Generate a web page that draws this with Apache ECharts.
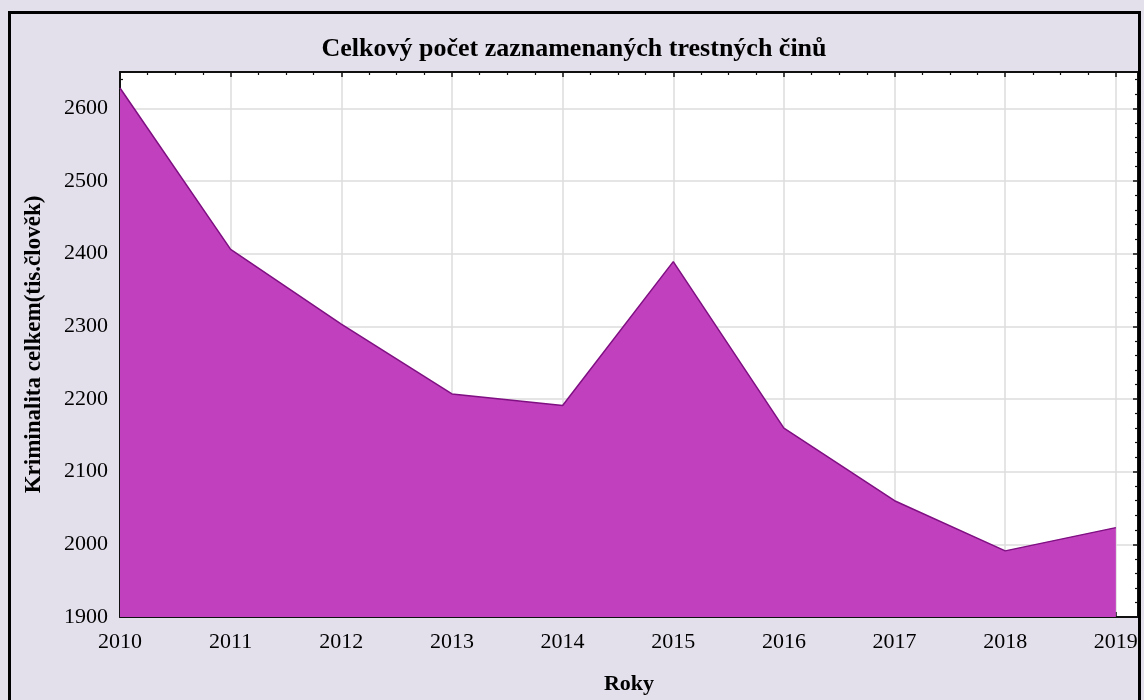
<!DOCTYPE html>
<html>
<head>
<meta charset="utf-8">
<script src="https://cdn.jsdelivr.net/npm/echarts@6/dist/echarts.min.js"></script>
<style>
  html, body { margin: 0; padding: 0; background: #e3dfeb; }
  #chart { position: absolute; left: 0; top: 0; width: 1144px; height: 700px; }
  #frame { position: absolute; left: 8px; top: 11px; width: 1133px; height: 700px;
           box-sizing: border-box; border: 3px solid #000; pointer-events: none; }
</style>
</head>
<body>
<div id="chart"></div>
<div id="frame"></div>
<script>
// Data
const years = [2010, 2011, 2012, 2013, 2014, 2015, 2016, 2017, 2018, 2019];
const crimes = [2628, 2406, 2303, 2207, 2191, 2389, 2160, 2060, 1991, 2023];

const chart = echarts.init(document.getElementById('chart'));
const font = '"Liberation Serif", "Times New Roman", serif';
const axisLine = { show: true, lineStyle: { color: '#111', width: 2 } };

const xCommon = {
    type: 'value', min: 2010, max: 2019.2, interval: 1,
    axisLine: axisLine,
    axisTick: { show: true, inside: true, length: 5, lineStyle: { color: '#111', width: 1.5 } },
    minorTick: { show: true, splitNumber: 4, length: 3, lineStyle: { color: '#111', width: 1.2 } }
};
const yCommon = {
    type: 'value', min: 1900, max: 2650, interval: 100,
    axisLine: axisLine,
    axisTick: { show: true, inside: true, length: 5, lineStyle: { color: '#111', width: 1.5 } },
    minorTick: { show: true, splitNumber: 5, length: 3, lineStyle: { color: '#111', width: 1.2 } }
};

chart.setOption({
    backgroundColor: '#e3dfeb',
    animation: false,
    title: {
        text: 'Celkový počet zaznamenaných trestných činů',
        left: 569, top: 31, textAlign: 'center',
        textStyle: { fontFamily: font, fontSize: 26, fontWeight: 'bold', color: '#000' }
    },
    grid: {
        left: 120, top: 72, width: 1018, height: 545,
        show: true, backgroundColor: '#fff', borderWidth: 0
    },
    xAxis: [
        {
            ...xCommon, position: 'bottom',
            name: 'Roky', nameLocation: 'middle', nameGap: 56,
            nameTextStyle: { fontFamily: font, fontSize: 22, fontWeight: 'bold', color: '#000' },
            axisLabel: { show: true, margin: 14, showMaxLabel: false,
                fontFamily: font, fontSize: 22, color: '#000',
                formatter: v => String(Math.round(v)) },
            splitLine: { show: true, lineStyle: { color: '#dcdcdc', width: 1.5 } }
        },
        {
            ...xCommon, position: 'top',
            axisLabel: { show: false },
            splitLine: { show: false }
        }
    ],
    yAxis: [
        {
            ...yCommon, position: 'left',
            name: 'Kriminalita celkem(tis.člověk)', nameLocation: 'middle', nameGap: 74,
            nameTextStyle: { fontFamily: font, fontSize: 23, fontWeight: 'bold', color: '#000' },
            axisLabel: { show: true, margin: 12, showMaxLabel: false,
                fontFamily: font, fontSize: 22, color: '#000',
                formatter: v => String(v) },
            splitLine: { show: true, lineStyle: { color: '#dcdcdc', width: 1.5 } }
        },
        {
            ...yCommon, position: 'right',
            axisLabel: { show: false },
            splitLine: { show: false }
        }
    ],
    series: [{
        type: 'line',
        data: years.map((y, i) => [y, crimes[i]]),
        symbol: 'none',
        lineStyle: { color: '#7f0f82', width: 1.5 },
        areaStyle: { color: '#c040bd', opacity: 1, origin: 'start' },
        z: 3
    }]
});
</script>
</body>
</html>
